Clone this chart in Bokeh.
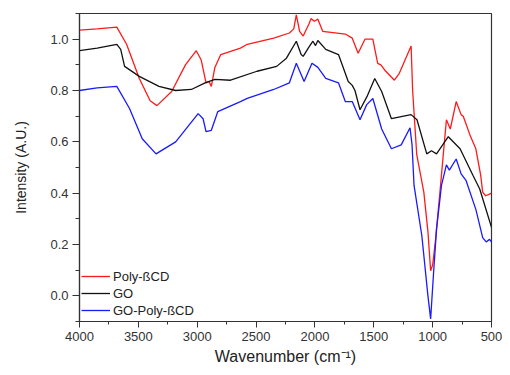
from bokeh.plotting import figure
from bokeh.models import Range1d, FixedTicker, PrintfTickFormatter, Legend, LegendItem
from bokeh.embed import file_html
from bokeh.resources import INLINE

# Poly-ßCD (red)
poly_wn = [4000, 3850, 3683, 3600, 3492, 3400, 3342, 3217, 3100, 3008, 2967, 2925, 2900, 2880,
           2850, 2800, 2633, 2575, 2350, 2217, 2180, 2158, 2130, 2100, 2050, 2033, 2005, 1975,
           1933, 1742, 1683, 1633, 1575, 1508, 1467, 1440, 1408, 1325, 1283, 1183, 1170, 1135,
           1075, 1040, 1017, 1000, 975, 933, 900, 883, 850, 800, 758, 740, 683, 633, 592, 575,
           550, 517, 500]
poly_i = [1.035, 1.04, 1.047, 0.98, 0.847, 0.76, 0.741, 0.796, 0.90, 0.955, 0.92, 0.83, 0.835, 0.816,
          0.89, 0.94, 0.965, 0.98, 1.004, 1.024, 1.04, 1.095, 1.03, 1.012, 1.06, 1.08, 1.07, 1.078,
          1.03, 1.02, 1.004, 0.945, 1.0, 1.0, 0.906, 0.90, 0.88, 0.84, 0.867, 0.973, 0.80, 0.55,
          0.404, 0.25, 0.098, 0.12, 0.22, 0.43, 0.60, 0.686, 0.65, 0.757, 0.706, 0.70, 0.627, 0.573, 0.47, 0.404,
          0.39, 0.396, 0.40]

# GO (black)
go_wn = [4000, 3850, 3683, 3650, 3617, 3492, 3325, 3183, 3050, 2933, 2850, 2717, 2492, 2325,
         2242, 2158, 2117, 2100, 2050, 2017, 1995, 1975, 1908, 1800, 1717, 1683, 1660, 1617,
         1558, 1492, 1433, 1350, 1267, 1183, 1133, 1050, 1010, 967, 867, 767, 658, 600, 500]
go_i = [0.955, 0.965, 0.98, 0.96, 0.894, 0.855, 0.816, 0.80, 0.804, 0.83, 0.843, 0.84, 0.875, 0.894,
        0.926, 0.992, 0.94, 0.933, 0.97, 0.992, 0.975, 0.995, 0.96, 0.94, 0.835, 0.82, 0.80, 0.725,
        0.776, 0.847, 0.796, 0.69, 0.698, 0.706, 0.686, 0.553, 0.565, 0.553, 0.62, 0.573, 0.47, 0.416, 0.267]

# GO-Poly-ßCD (blue)
gop_wn = [4000, 3850, 3683, 3575, 3467, 3350, 3183, 2992, 2950, 2925, 2880, 2825, 2633, 2575,
          2350, 2217, 2158, 2092, 2025, 1975, 1908, 1800, 1742, 1683, 1617, 1560, 1508, 1433,
          1350, 1267, 1192, 1175, 1158, 1092, 1040, 1017, 992, 967, 925, 883, 858, 800, 758,
          717, 633, 575, 545, 517, 500]
gop_i = [0.80, 0.81, 0.816, 0.73, 0.612, 0.553, 0.60, 0.71, 0.69, 0.64, 0.645, 0.718, 0.757, 0.769,
         0.804, 0.83, 0.906, 0.835, 0.906, 0.89, 0.847, 0.83, 0.757, 0.757, 0.686, 0.745, 0.769, 0.65,
         0.573, 0.588, 0.655, 0.588, 0.43, 0.235, 0.0, -0.09, 0.09, 0.26, 0.43, 0.51, 0.49, 0.533, 0.475,
         0.45, 0.337, 0.227, 0.21, 0.22, 0.21]

x_major = [4000, 3500, 3000, 2500, 2000, 1500, 1000, 500]
x_minor = [3750, 3250, 2750, 2250, 1750, 1250, 750]
y_major = [0.0, 0.2, 0.4, 0.6, 0.8, 1.0]
y_minor = [-0.1, 0.1, 0.3, 0.5, 0.7, 0.9, 1.1]

FONT = "Liberation Sans"

p = figure(width=502, height=367, output_backend="svg", toolbar_location=None,
           x_range=Range1d(4000, 500), y_range=Range1d(-0.1, 1.1),
           min_border_left=79, min_border_right=11, min_border_top=13, min_border_bottom=45)

p.xgrid.visible = False
p.ygrid.visible = False
p.outline_line_color = "#333333"
p.outline_line_width = 1.2
p.background_fill_color = "white"
p.border_fill_color = "white"

r1 = p.line(poly_wn, poly_i, line_color="#ff1a1a", line_width=1.3)
r2 = p.line(go_wn, go_i, line_color="#111111", line_width=1.3)
r3 = p.line(gop_wn, gop_i, line_color="#1a1aff", line_width=1.3)

for ax in (p.xaxis[0], p.yaxis[0]):
    ax.axis_line_color = "#333333"
    ax.axis_line_width = 1.2
    ax.major_tick_line_color = "#333333"
    ax.minor_tick_line_color = "#333333"
    ax.major_tick_in = 0
    ax.minor_tick_in = 0
    ax.major_label_text_font = FONT
    ax.major_label_text_font_size = "13px"
    ax.major_label_text_color = "#333333"
    ax.axis_label_text_font = FONT
    ax.axis_label_text_font_style = "normal"
    ax.axis_label_text_color = "#222222"

p.xaxis.major_tick_out = 6
p.xaxis.minor_tick_out = 3
p.yaxis.major_tick_out = 7
p.yaxis.minor_tick_out = 4
p.xaxis.ticker = FixedTicker(ticks=x_major, minor_ticks=x_minor)
p.yaxis.ticker = FixedTicker(ticks=y_major, minor_ticks=y_minor)
p.yaxis.formatter = PrintfTickFormatter(format="%.1f")
p.xaxis.axis_label = "Wavenumber (cm\u207b\u00b9)"
p.yaxis.axis_label = "Intensity (A.U.)"
p.xaxis.axis_label_text_font_size = "16px"
p.yaxis.axis_label_text_font_size = "14px"
p.xaxis.major_label_standoff = 4
p.yaxis.major_label_standoff = 4
p.xaxis.axis_label_standoff = 4
p.yaxis.axis_label_standoff = 18

legend = Legend(items=[LegendItem(label="Poly-\u00dfCD", renderers=[r1]),
                       LegendItem(label="GO", renderers=[r2]),
                       LegendItem(label="GO-Poly-\u00dfCD", renderers=[r3])],
                location=(2, 3))
legend.background_fill_alpha = 0
legend.border_line_alpha = 0
legend.label_text_font = FONT
legend.label_text_font_size = "13px"
legend.label_text_color = "#222222"
legend.glyph_width = 29
legend.glyph_height = 16
legend.label_height = 16
legend.spacing = 1
legend.padding = 0
legend.margin = 0
legend.label_standoff = 3
p.add_layout(legend)

open("out.html", "w").write(file_html(p, INLINE))
